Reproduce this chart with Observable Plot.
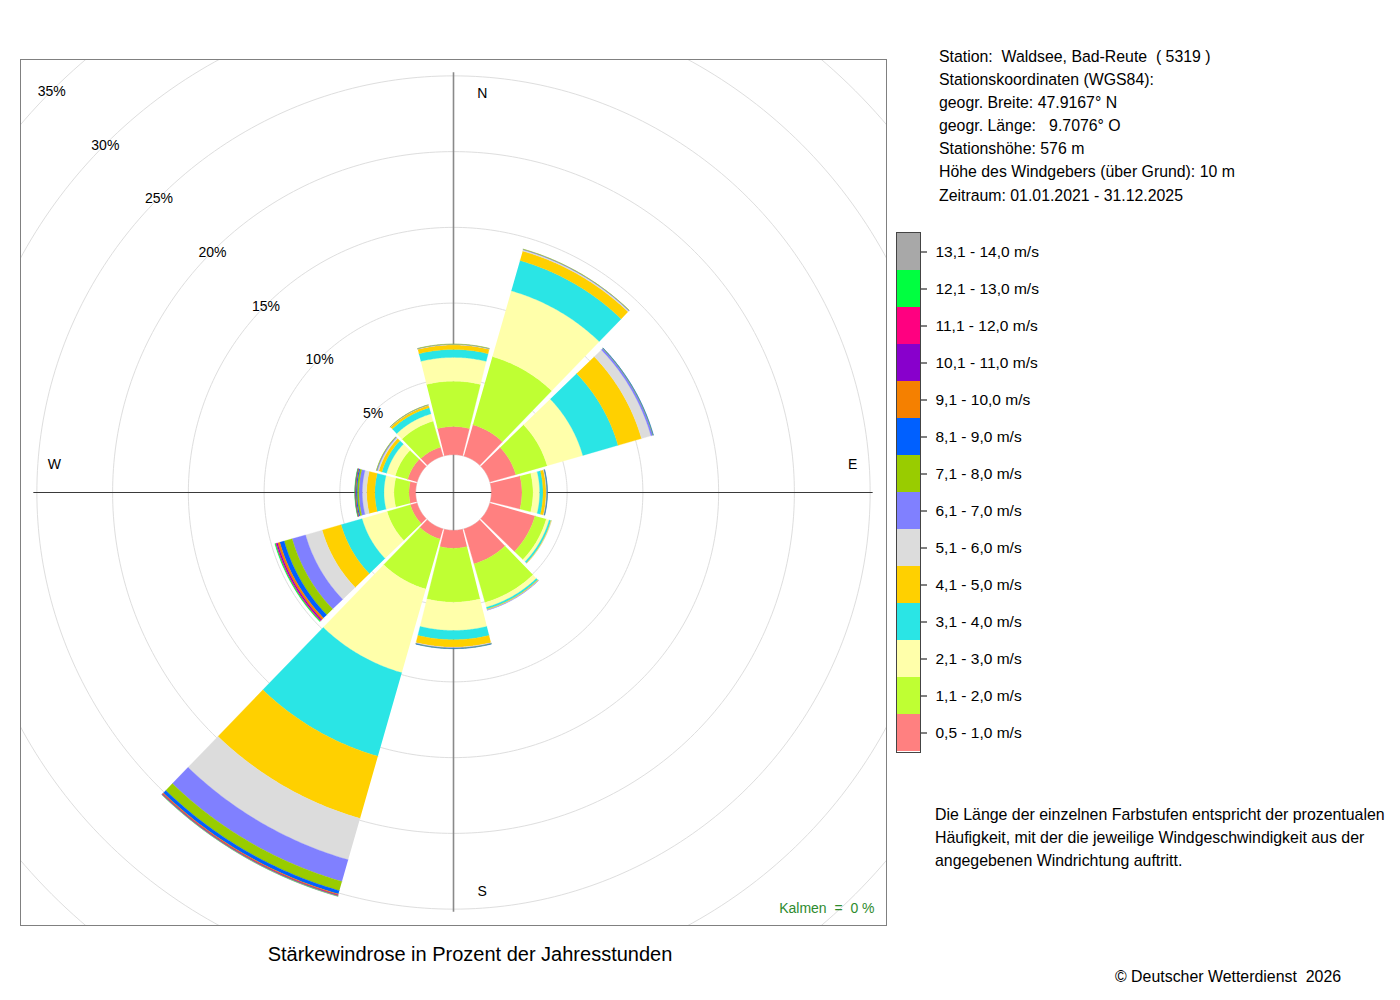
<!DOCTYPE html>
<html>
<head>
<meta charset="utf-8">
<script src="https://cdn.jsdelivr.net/npm/d3@7"></script>
<script src="https://cdn.jsdelivr.net/npm/@observablehq/plot@0.6"></script>
<style>
  body { margin: 0; background: #fff; font-family: "Liberation Sans", Arial, sans-serif; }
  #page { position: relative; width: 1400px; height: 1000px; overflow: hidden; }
  .abs { position: absolute; white-space: pre; color: #000; }
  svg text { white-space: pre; }
</style>
</head>
<body>
<div id="page"></div>
<script>
// ---------- data ----------
const directions = [0, 30, 60, 90, 120, 150, 180, 210, 240, 270, 300, 330];
const directionNames = ["N", "NNO", "ONO", "O", "OSO", "SSO", "S", "SSW", "WSW", "W", "WNW", "NNW"];

const speedClasses = [
  "0,5 - 1,0 m/s", "1,1 - 2,0 m/s", "2,1 - 3,0 m/s", "3,1 - 4,0 m/s", "4,1 - 5,0 m/s",
  "5,1 - 6,0 m/s", "6,1 - 7,0 m/s", "7,1 - 8,0 m/s", "8,1 - 9,0 m/s", "9,1 - 10,0 m/s",
  "10,1 - 11,0 m/s", "11,1 - 12,0 m/s", "12,1 - 13,0 m/s", "13,1 - 14,0 m/s"
];
const classColors = [
  "#ff8080", "#bfff33", "#ffffaa", "#2ae5e5", "#ffd000",
  "#dcdcdc", "#8080ff", "#99cc00", "#0060ff", "#f58000",
  "#8800cc", "#ff0080", "#00ff40", "#a8a8a8"
];

// percent of hours per speed class (order as speedClasses), one array per direction sector
const pctN   = [1.85, 3.00, 1.57, 0.52, 0.30, 0.03, 0.02, 0.01, 0,    0,    0,    0,    0,    0];
const pctNNO = [2.15, 4.68, 4.52, 2.08, 0.65, 0.08, 0.04, 0.01, 0,    0,    0,    0,    0,    0];
const pctONO = [1.78, 2.15, 2.45, 2.42, 1.61, 0.65, 0.13, 0.03, 0.01, 0,    0,    0,    0,    0];
const pctO   = [2.02, 0.73, 0.44, 0.22, 0.20, 0.04, 0.02, 0.02, 0.01, 0,    0,    0,    0,    0];
const pctOSO = [3.10, 0.77, 0.20, 0.12, 0.03, 0.01, 0,    0,    0,    0,    0,    0,    0,    0];
const pctSSO = [2.40, 2.65, 0.33, 0.12, 0.05, 0.02, 0.01, 0,    0,    0,    0,    0,    0,    0];
const pctS   = [1.18, 3.56, 1.87, 0.61, 0.49, 0.04, 0.03, 0.02, 0.01, 0,    0,    0,    0,    0];
const pctSSW = [0.70, 3.43, 5.75, 5.73, 4.27, 2.84, 1.49, 0.63, 0.23, 0.07, 0.03, 0.03, 0.02, 0.01];
const pctWSW = [0.46, 1.60, 1.72, 1.44, 1.30, 1.14, 0.92, 0.55, 0.30, 0.15, 0.08, 0.06, 0.05, 0];
const pctW   = [0.44, 0.99, 0.66, 0.60, 0.54, 0.29, 0.22, 0.12, 0.07, 0.04, 0.02, 0.01, 0.02, 0];
const pctWNW = [0.65, 0.85, 0.60, 0.32, 0.21, 0.09, 0.06, 0.02, 0,    0,    0,    0,    0,    0];
const pctNNW = [0.61, 1.79, 0.50, 0.42, 0.16, 0.02, 0.02, 0.01, 0,    0,    0,    0,    0,    0];
const sectorSeries = [pctN, pctNNO, pctONO, pctO, pctOSO, pctSSO, pctS, pctSSW, pctWSW, pctW, pctWNW, pctNNW];

const ringPercents = [5, 10, 15, 20, 25, 30, 35];
const compassLabels = ["N", "E", "S", "W"];
const compassAngles = [0, 90, 180, 270];
const calmText = "Kalmen  =  0 %";

const stationLines = [
  "Station:  Waldsee, Bad-Reute  ( 5319 )",
  "Stationskoordinaten (WGS84):",
  "geogr. Breite: 47.9167° N",
  "geogr. Länge:   9.7076° O",
  "Stationshöhe: 576 m",
  "Höhe des Windgebers (über Grund): 10 m",
  "Zeitraum: 01.01.2021 - 31.12.2025"
];
const noteLines = [
  "Die Länge der einzelnen Farbstufen entspricht der prozentualen",
  "Häufigkeit, mit der die jeweilige Windgeschwindigkeit aus der",
  "angegebenen Windrichtung auftritt."
];
const captionText = "Stärkewindrose in Prozent der Jahresstunden";
const copyrightText = "© Deutscher Wetterdienst  2026";

// ---------- geometry (percent units) ----------
const HOLE = 2.5;      // inner empty circle, in % units
const HALF = 14;       // half angular width of a sector (deg)
const EXT = 28.58;     // half extent of the square frame, % units
const AXIS = 27.7;     // half length of the cross lines
const LABEL_R = 26.35; // radius of the compass letters
const rad = Math.PI / 180;

const bandPts = [];
sectorSeries.forEach((vals, j) => {
  let cum = 0;
  vals.forEach((v, i) => {
    if (v > 0) {
      const r0 = HOLE + cum, r1 = HOLE + cum + v, id = j * 100 + i;
      const a0 = directions[j] - HALF, a1 = directions[j] + HALF;
      for (let a = a0; a <= a1 + 1e-9; a += 0.5)
        bandPts.push({id, cls: i, x: r1 * Math.sin(a * rad), y: r1 * Math.cos(a * rad)});
      for (let a = a1; a >= a0 - 1e-9; a -= 0.5)
        bandPts.push({id, cls: i, x: r0 * Math.sin(a * rad), y: r0 * Math.cos(a * rad)});
    }
    cum += v;
  });
});

const ringPts = [];
[0, ...ringPercents, 40].forEach(p => {
  for (let a = 0; a <= 360; a += 1)
    ringPts.push({ring: p, x: (HOLE + p) * Math.sin(a * rad), y: (HOLE + p) * Math.cos(a * rad)});
});

const bandMarks = classColors.map((c, i) =>
  Plot.line(bandPts.filter(d => d.cls === i), {x: "x", y: "y", z: "id", fill: c, stroke: c, strokeWidth: 0.3})
);

const rose = Plot.plot({
  width: 900, height: 950,
  marginLeft: 20, marginRight: 14, marginTop: 59, marginBottom: 25,
  x: {domain: [-EXT, EXT], axis: null},
  y: {domain: [-EXT, EXT], axis: null},
  style: {fontFamily: "Liberation Sans, Arial, sans-serif", fontSize: "14px", background: "transparent", color: "#000"},
  marks: [
    Plot.line(ringPts, {x: "x", y: "y", z: "ring", stroke: "#dedede", strokeWidth: 1, clip: true}),
    Plot.ruleX([0], {y1: -AXIS, y2: AXIS, stroke: "#8a8a8a", strokeWidth: 1.6}),
    Plot.ruleY([0], {x1: -AXIS, x2: AXIS, stroke: "#3a3a3a", strokeWidth: 1}),
    ...bandMarks,
    Plot.text(ringPercents, {
      x: p => -(HOLE + p) * Math.SQRT1_2, y: p => (HOLE + p) * Math.SQRT1_2,
      text: p => p + "%", fontSize: 14, dy: 1, fill: "#000"
    }),
    Plot.text(compassLabels, {
      x: (d, i) => LABEL_R * Math.sin(compassAngles[i] * rad) + (compassAngles[i] % 180 === 0 ? 1.9 : 0),
      y: (d, i) => LABEL_R * Math.cos(compassAngles[i] * rad) + (compassAngles[i] % 180 === 0 ? 0 : 1.85),
      text: d => d, fontSize: 14, fill: "#000"
    }),
    Plot.text([calmText], {frameAnchor: "bottom-right", dx: -12, dy: -13, fill: "#2e8b2e", fontSize: 14}),
    Plot.frame({stroke: "#808080"})
  ]
});

const legendRows = speedClasses.map((label, i) => ({label, color: classColors[i]}));
const legend = Plot.plot({
  width: 175, height: 530,
  marginLeft: 1, marginRight: 150, marginTop: 5, marginBottom: 5,
  x: {axis: null},
  y: {domain: speedClasses.slice().reverse(), padding: 0, axis: "right", tickSize: 6, tickPadding: 9, label: null},
  color: {type: "identity"},
  style: {fontFamily: "Liberation Sans, Arial, sans-serif", fontSize: "15.5px", background: "transparent", color: "#000"},
  marks: [
    Plot.cell(legendRows, {y: "label", fill: "color"}),
    Plot.frame({stroke: "#444"})
  ]
});

// ---------- layout ----------
const page = document.getElementById("page");
function place(el, left, top) {
  el.style.position = "absolute"; el.style.left = left + "px"; el.style.top = top + "px";
  page.appendChild(el);
}
place(rose, 0, 0);
place(legend, 895, 227);

function textBlock(lines, left, top, size, lh, extra) {
  const div = document.createElement("div");
  div.className = "abs";
  div.style.left = left + "px"; div.style.top = top + "px";
  div.style.fontSize = size + "px"; div.style.lineHeight = lh + "px";
  Object.assign(div.style, extra || {});
  div.textContent = lines.join("\n");
  page.appendChild(div);
}
textBlock(stationLines, 939, 44.5, 15.85, 23.17);
textBlock(noteLines, 935, 802.7, 15.9, 23);
textBlock([copyrightText], 1115, 964.7, 15.9, 23);
textBlock([captionText], 0, 942.3, 20, 24, {width: "940px", textAlign: "center"});
</script>
</body>
</html>
